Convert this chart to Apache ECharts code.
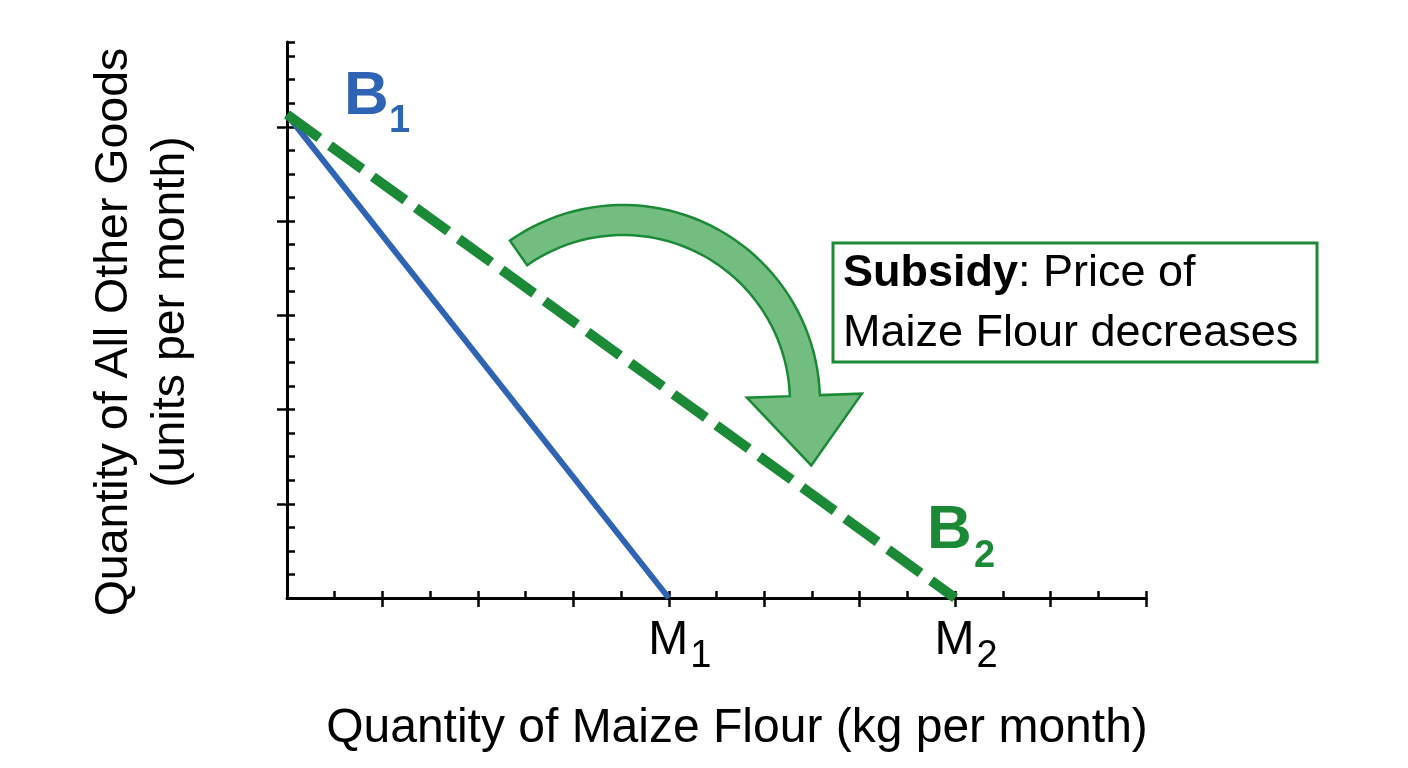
<!DOCTYPE html>
<html>
<head>
<meta charset="utf-8">
<script src="https://cdn.jsdelivr.net/npm/echarts@6/dist/echarts.min.js"></script>
<style>
html,body{margin:0;padding:0;background:#ffffff;}
#c{width:1408px;height:768px;}
</style>
</head>
<body>
<div id="c"></div>
<script>
// ---- data ----
const budgetNames = ['B1', 'B2'];
const otherGoodsIntercepts = [5.13, 5.13];   // y-intercepts (units per month)
const maizeIntercepts = [4, 7];              // x-intercepts (kg per month)
const xTickLabels = ['', '', '', '', 'M1', '', '', 'M2', '', ''];
const xMajorTicks = [1, 2, 3, 4, 5, 6, 7, 8, 9];
const yMajorTicks = [1, 2, 3, 4, 5];
const xMax = 9;
const yMax = 5.9;

// ---- styles ----
const FONT = '"Liberation Sans", Arial, Helvetica, sans-serif';
const BLUE = '#2f64b5';
const GREEN = '#1b8a36';
const ARROW_FILL = '#74bd81';
const BLACK = '#000000';

const chart = echarts.init(document.getElementById('c'), null, { renderer: 'canvas' });

function baseAxis(max, interval, position) {
  return {
    type: 'value', min: 0, max: max, interval: interval, position: position, offset: 0,
    splitLine: { show: false },
    axisLine: { show: false, onZero: false },
    axisLabel: { show: false },
    axisTick: { show: false }
  };
}

// x axes
const xMinor = baseAxis(xMax, 0.5, 'bottom');
xMinor.axisLine = { show: true, onZero: false, lineStyle: { color: BLACK, width: 3 } };
xMinor.axisTick = { show: true, inside: true, length: 7, lineStyle: { color: BLACK, width: 2.5 } };

const xMajor = baseAxis(xMax, 1, 'bottom');
xMajor.axisTick = { show: true, inside: false, length: 9, customValues: xMajorTicks, lineStyle: { color: BLACK, width: 2.5 } };
xMajor.axisLabel = {
  show: true,
  margin: 19,
  showMinLabel: true, showMaxLabel: true,
  formatter: function (v) {
    const s = xTickLabels[Math.round(v)];
    if (!s) return '';
    return '{m|' + s.charAt(0) + '}{s|' + s.slice(1) + '}';
  },
  rich: {
    m: { fontFamily: FONT, fontSize: 48, lineHeight: 48, color: BLACK, padding: [0, 0, 0, 22] },
    s: { fontFamily: FONT, fontSize: 38, lineHeight: 38, color: BLACK, padding: [32, 0, 0, 2] }
  }
};

// y axes
const yMinor = baseAxis(yMax, 0.25, 'left');
yMinor.axisLine = { show: true, onZero: false, lineStyle: { color: BLACK, width: 3 } };
yMinor.axisTick = { show: true, inside: true, length: 8, lineStyle: { color: BLACK, width: 2.5 } };

const yMajor = baseAxis(yMax, 1, 'left');
yMajor.axisTick = { show: true, inside: false, length: 10, customValues: yMajorTicks, lineStyle: { color: BLACK, width: 2.5 } };

const seriesStyles = [
  { color: BLUE, width: 6, type: 'solid' },
  { color: GREEN, width: 10, type: [40, 13] }
];

const series = budgetNames.map(function (name, i) {
  return {
    name: name,
    type: 'line',
    xAxisIndex: 0, yAxisIndex: 0,
    data: [[0, otherGoodsIntercepts[i]], [maizeIntercepts[i], 0]],
    symbol: 'none',
    silent: true,
    clip: false,
    z: 3 + i,
    lineStyle: { color: seriesStyles[i].color, width: seriesStyles[i].width, type: seriesStyles[i].type, cap: 'butt' }
  };
});

chart.setOption({
  animation: false,
  backgroundColor: '#ffffff',
  grid: { left: 287, right: 262, top: 42, bottom: 170, containLabel: false, outerBoundsMode: 'none' },
  xAxis: [xMinor, xMajor],
  yAxis: [yMinor, yMajor],
  series: series
});

// ---- annotations ----
function arrowPoints(c) {
  const R = 197, r = 167, deg = Math.PI / 180;
  const t0 = -125 * deg, t1 = -2 * deg, n = 48;
  const pts = [];
  for (let i = 0; i <= n; i++) {
    const t = t0 + (t1 - t0) * i / n;
    pts.push([c[0] + R * Math.cos(t), c[1] + R * Math.sin(t)]);
  }
  const u = [Math.cos(t1), Math.sin(t1)];
  const tg = [-Math.sin(t1), Math.cos(t1)];
  pts.push([c[0] + 239 * u[0], c[1] + 239 * u[1]]);
  pts.push([c[0] + 186 * u[0] + 70 * tg[0], c[1] + 186 * u[1] + 70 * tg[1]]);
  pts.push([c[0] + 124 * u[0], c[1] + 124 * u[1]]);
  for (let i = n; i >= 0; i--) {
    const t = t0 + (t1 - t0) * i / n;
    pts.push([c[0] + r * Math.cos(t), c[1] + r * Math.sin(t)]);
  }
  return pts;
}

const arrowCenter = chart.convertToPixel({ xAxisIndex: 0, yAxisIndex: 0 }, [3.52, 2.08]);

chart.setOption({
  graphic: [
    {
      type: 'polygon', z: 10,
      shape: { points: arrowPoints(arrowCenter) },
      style: { fill: ARROW_FILL, stroke: GREEN, lineWidth: 2.5, lineJoin: 'miter' }
    },
    {
      type: 'rect', z: 10,
      shape: { x: 833, y: 243, width: 484, height: 119 },
      style: { fill: '#ffffff', stroke: GREEN, lineWidth: 3 }
    },
    {
      type: 'text', z: 11, x: 843, y: 274,
      style: {
        text: '{b|Subsidy}: Price of',
        fontFamily: FONT, fontSize: 45, fill: BLACK,
        align: 'left', verticalAlign: 'middle',
        rich: { b: { fontFamily: FONT, fontSize: 45, fontWeight: 'bold', fill: BLACK } }
      }
    },
    {
      type: 'text', z: 11, x: 843, y: 334,
      style: {
        text: 'Maize Flour decreases',
        fontFamily: FONT, fontSize: 45, fill: BLACK,
        align: 'left', verticalAlign: 'middle'
      }
    },
    // B1 label
    { type: 'text', z: 11, x: 344, y: 97,
      style: { text: budgetNames[0].charAt(0), fontFamily: FONT, fontSize: 62, fontWeight: 'bold', fill: BLUE, align: 'left', verticalAlign: 'middle' } },
    { type: 'text', z: 11, x: 389, y: 122,
      style: { text: budgetNames[0].slice(1), fontFamily: FONT, fontSize: 38, fontWeight: 'bold', fill: BLUE, align: 'left', verticalAlign: 'middle' } },
    // B2 label
    { type: 'text', z: 11, x: 927, y: 531,
      style: { text: budgetNames[1].charAt(0), fontFamily: FONT, fontSize: 62, fontWeight: 'bold', fill: GREEN, align: 'left', verticalAlign: 'middle' } },
    { type: 'text', z: 11, x: 974, y: 557,
      style: { text: budgetNames[1].slice(1), fontFamily: FONT, fontSize: 38, fontWeight: 'bold', fill: GREEN, align: 'left', verticalAlign: 'middle' } },
    // x axis title
    { type: 'text', z: 11, x: 737, y: 729,
      style: { text: 'Quantity of Maize Flour (kg per month)', fontFamily: FONT, fontSize: 48, fill: BLACK, align: 'center', verticalAlign: 'middle' } },
    // y axis title
    { type: 'text', z: 11, x: 114, y: 332, rotation: Math.PI / 2,
      style: { text: 'Quantity of All Other Goods', fontFamily: FONT, fontSize: 46.5, fill: BLACK, align: 'center', verticalAlign: 'middle' } },
    { type: 'text', z: 11, x: 171, y: 312, rotation: Math.PI / 2,
      style: { text: '(units per month)', fontFamily: FONT, fontSize: 46.5, fill: BLACK, align: 'center', verticalAlign: 'middle' } }
  ]
});
</script>
</body>
</html>
